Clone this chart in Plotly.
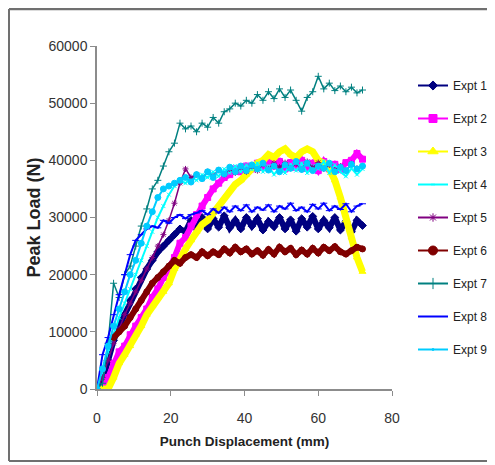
import plotly.graph_objects as go

# Punch displacement (mm)
displacement = [0, 1.5, 3, 4.5, 6, 7.5, 9, 10.5, 12, 13.5, 15, 16.5, 18, 19.5, 21, 22.5,
                24, 25.5, 27, 28.5, 30, 31.5, 33, 34.5, 36, 37.5, 39, 40.5, 42, 43.5, 45,
                46.5, 48, 49.5, 51, 52.5, 54, 55.5, 57, 58.5, 60, 61.5, 63, 64.5, 66, 67.5,
                69, 70.5, 72]

expt1 = [0, 1500, 5000, 8500, 11000, 13000, 15500, 17500, 19500, 21000, 22500, 24000, 25000,
         26000, 27000, 28000, 27500, 29500, 28000, 30000, 28000, 29800, 28300, 30300, 28200,
         29500, 28000, 30000, 28500, 29800, 27800, 29300, 28400, 30000, 28000, 29600, 27600,
         29800, 28300, 30200, 28000, 29500, 28200, 30000, 27800, 29300, 27500, 29500, 28600]
expt2 = [0, 0, 2000, 4500, 6500, 7500, 9500, 11000, 12500, 14000, 16000, 17500, 19500, 21000,
         23000, 25500, 26500, 28500, 30500, 32000, 33500, 35000, 36000, 37000, 37500, 38500,
         38000, 39000, 38500, 39500, 38800, 40000, 39000, 39800, 38500, 39600, 38800, 40000,
         38600, 39500, 38200, 39800, 38500, 39300, 38400, 39600, 40000, 41200, 40200]
expt3 = [0, 0, 0, 2000, 4500, 6000, 7500, 9500, 11000, 13000, 14500, 16000, 17000, 18500,
         21000, 23000, 24500, 26000, 27500, 28800, 29500, 30800, 32000, 33500, 34800, 35800,
         36500, 37500, 38500, 39500, 40000, 41000, 40500, 41500, 42000, 41000, 40500, 41500,
         42000, 41500, 40000, 39500, 38500, 36500, 33500, 29500, 26500, 23000, 20500]
expt4 = [0, 3000, 6500, 9500, 12500, 15000, 17500, 20000, 22500, 25000, 27500, 30000, 32000,
         34000, 35500, 36500, 36000, 37000, 36500, 37500, 37000, 38000, 37200, 38500, 37800,
         39000, 38000, 39200, 38400, 39500, 38000, 39000, 37500, 38800, 37800, 39300, 38200,
         39500, 37800, 39000, 38500, 39800, 37800, 39200, 38000, 37200, 38600, 37500, 38500]
expt5 = [0, 2000, 5000, 8000, 10500, 13000, 15000, 17000, 19000, 21000, 23000, 25000, 27000,
         29500, 32500, 36000, 38500, 37000, 37500, 36800, 38000, 37200, 38300, 37500, 38500,
         37800, 38800, 38000, 39000, 38200, 39300, 38500, 39500, 38800, 39600, 38600, 39400,
         38400, 39800, 38700, 39600, 38500, 39200, 38300, 39000, 38200, 39400, 38600, 39000]
expt6 = [None, None, None, 9000, 10000, 11000, 12500, 14000, 15500, 17000, 18500, 19500,
         20500, 21500, 22500, 22000, 23000, 23500, 23000, 24000, 23300, 24000, 23500, 24500,
         23800, 24800, 24000, 24500, 23600, 24200, 23400, 24400, 23600, 24800, 24000, 24600,
         23500, 24300, 23600, 24600, 23800, 24800, 24200, 24900, 24000, 23600, 24200, 24800,
         24500]
expt7 = [0, 1000, 8000, 18500, 16000, 20000, 21500, 25000, 28500, 31500, 35000, 36500, 39000,
         41500, 43000, 46500, 45500, 46000, 45000, 46500, 45800, 47500, 46500, 48500, 49000,
         50000, 49500, 50500, 50000, 51500, 50500, 52000, 50800, 52500, 51000, 52300, 50500,
         48600, 51000, 52000, 54700, 52500, 53500, 52200, 53000, 52000, 52800, 51800, 52300]
expt8 = [0, 6000, 9000, 13000, 16500, 20000, 23500, 26000, 27000, 28000, 28500, 28200, 29500,
         29000, 30000, 30500, 29800, 30500, 30800, 31200, 30500, 31500, 30800, 31800, 31000,
         32000, 31200, 32200, 31000, 31800, 31300, 32200, 31000, 32000, 31500, 32500, 31200,
         31800, 31000, 32300, 31500, 32500, 31200, 32000, 31400, 32400, 31000, 32000, 32400]
expt9 = [0, 3500, 7500, 11000, 14000, 17000, 20000, 22500, 25500, 28500, 31000, 33500, 35000,
         35500, 36000, 36500, 37000, 36200, 37500, 36800, 38000, 37000, 38300, 37600, 38800,
         38000, 39000, 38200, 39200, 38500, 39500, 38300, 39000, 38000, 39200, 38600, 39800,
         38400, 39500, 38200, 39000, 38600, 39500, 38000, 38800, 38200, 39300, 38500, 39000]

names = ["Expt 1", "Expt 2", "Expt 3", "Expt 4", "Expt 5", "Expt 6", "Expt 7", "Expt 8", "Expt 9"]
series = [expt1, expt2, expt3, expt4, expt5, expt6, expt7, expt8, expt9]
colors = ["#000080", "#FF00FF", "#FFFF00", "#00FFFF", "#800080", "#800000", "#008080",
          "#0000FF", "#00CCFF"]
symbols = ["diamond", "square", "triangle-up", "x-thin", "asterisk", "circle", "cross-thin",
           "line-ew", "circle"]
line_widths = [6, 6, 7, 2, 1.5, 6, 1.5, 2, 2]
marker_sizes = [6, 6, 6, 4, 5, 6, 5, 5, 0]
legend_marker_sizes = [7, 8, 9, 0, 7, 9, 8, 6, 0]

FONT = "Arial, Liberation Sans, sans-serif"

fig = go.Figure()
for i, (name, ys) in enumerate(zip(names, series)):
    fig.add_trace(go.Scatter(
        x=displacement, y=ys, name=name, mode="lines+markers", showlegend=False,
        line=dict(color=colors[i], width=line_widths[i]),
        marker=dict(symbol=symbols[i], size=marker_sizes[i], color=colors[i],
                    line=dict(width=1, color=colors[i])),
        connectgaps=False,
    ))

# legend-only entries with thin sample lines
for i, name in enumerate(names):
    fig.add_trace(go.Scatter(
        x=[None], y=[None], name=name, mode="lines+markers", legendgroup=f"g{i}",
        line=dict(color=colors[i], width=2),
        marker=dict(symbol=symbols[i], size=legend_marker_sizes[i], color=colors[i],
                    line=dict(width=1, color=colors[i])),
    ))

# The page body adds an 8px offset to the figure inside the window
OFF = 8
W, H = 495, 465

def fx(sx):
    return (sx - OFF) / W

def fy(sy):
    return 1 - (sy - OFF) / H

border = "#707070"
fig.update_layout(
    width=W, height=H,
    margin=dict(l=0, r=0, t=0, b=0, pad=0),
    paper_bgcolor="white", plot_bgcolor="white",
    font=dict(family=FONT, size=12, color="#333333"),
    showlegend=True,
    legend=dict(x=fx(413), y=fy(71), xanchor="left", yanchor="top",
                font=dict(family=FONT, size=12, color="#222222"),
                tracegroupgap=14, itemwidth=30, bgcolor="rgba(0,0,0,0)"),
    xaxis=dict(domain=[fx(97), fx(392)], range=[0, 80], tickvals=[0, 20, 40, 60, 80],
               showline=True, linecolor="#8c8c8c", linewidth=1.5, ticks="outside",
               ticklen=5, tickcolor="#8c8c8c", showgrid=False, zeroline=False,
               ticklabelstandoff=10, automargin=False, tickfont=dict(size=14),
               title=dict(text="<b>Punch Displacement (mm)</b>", standoff=12,
                          font=dict(size=13.5, color="#222222"))),
    yaxis=dict(domain=[fy(389), fy(46)], range=[0, 60000],
               tickvals=[0, 10000, 20000, 30000, 40000, 50000, 60000],
               tickformat="d", showline=True, linecolor="#8c8c8c", linewidth=1.5,
               ticks="outside", ticklen=5, tickcolor="#8c8c8c", showgrid=False,
               zeroline=False, automargin=False, tickfont=dict(size=14),
               title=dict(text="<b>Peak Load (N)</b>", standoff=3,
                          font=dict(size=18, color="#222222"))),
    shapes=[
        dict(type="line", xref="paper", yref="paper", x0=fx(9), x1=1,
             y0=fy(9), y1=fy(9), line=dict(color=border, width=2.5)),
        dict(type="line", xref="paper", yref="paper", x0=fx(9), x1=1,
             y0=fy(461), y1=fy(461), line=dict(color=border, width=2)),
        dict(type="line", xref="paper", yref="paper", x0=fx(9), x1=fx(9),
             y0=fy(9), y1=fy(461), line=dict(color=border, width=2)),
    ],
)

fig.write_html("out.html")
